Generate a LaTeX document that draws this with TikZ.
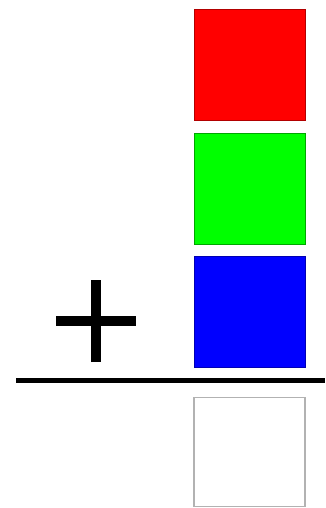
\documentclass[tikz,border=0pt]{standalone}
\usepackage{tikz}
\usetikzlibrary{positioning}

\begin{document}
\begin{tikzpicture}[
    x=1pt, y=-1pt,
    node distance=12.5pt,
    sq/.style={draw, line width=1pt, minimum size=111pt, inner sep=0pt, outer sep=0pt},
    rule/.style={line width=5pt},
    plus/.style={line width=9.5pt}
]
    \useasboundingbox (0,0) rectangle (325,508);
    \node[sq, fill={rgb,255:red,255;green,0;blue,0}, draw=red!70!black] (red) at (249.5,65) {};
    \node[sq, fill={rgb,255:red,0;green,255;blue,0}, draw=green!65!black, below=of red] (green) {};
    \node[sq, fill={rgb,255:red,0;green,0;blue,255}, draw=blue!70!black, below=of green] (blue) {};
    \node[sq, fill=white, draw=black!30, line width=1.5pt, minimum height=109pt, below=30pt of blue] (sum) {};

    % the plus sign
    \coordinate (plusc) at (96,321);
    \draw[plus] ([xshift=-40pt]plusc) -- ([xshift=40pt]plusc);
    \draw[plus] ([yshift=-41pt]plusc) -- ([yshift=41pt]plusc);

    % the sum rule
    \coordinate (ruleL) at (16,380.5);
    \coordinate (ruleR) at (325,380.5);
    \draw[rule] (ruleL) -- (ruleR);
\end{tikzpicture}
\end{document}
